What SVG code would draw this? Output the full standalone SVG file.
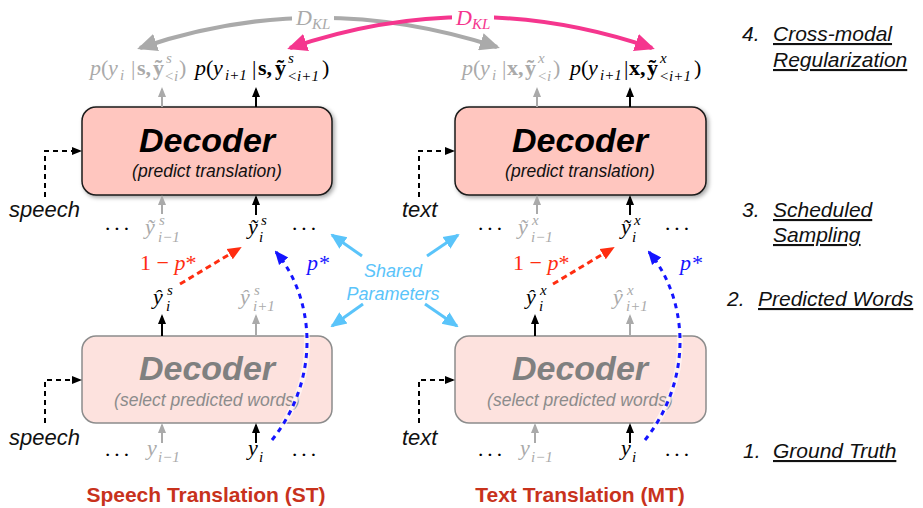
<svg xmlns="http://www.w3.org/2000/svg" width="923" height="508" viewBox="0 0 923 508">
<defs>
<style>
.m{font-family:"Liberation Serif","Times New Roman","DejaVu Serif",serif;font-size:22px}
.it{font-style:italic}
.bd{font-weight:bold}
.sm{font-size:15px}
.g{fill:#aaaaaa}
.k{fill:#000000}
.dtop{fill:#ffc6bf;stroke:#1a1a1a;stroke-width:1.5}
.dbot{fill:#fde2de;stroke:#8c8c8c;stroke-width:1.5}
.dt{font-family:"Liberation Sans",Arial,sans-serif;font-style:italic;font-weight:bold;font-size:34px;text-anchor:middle}
.ds{font-family:"Liberation Sans",Arial,sans-serif;font-style:italic;font-size:17.5px;text-anchor:middle}
.lbl{font-family:"Liberation Sans",Arial,sans-serif;font-style:italic;font-size:21px;fill:#111111}
.in{font-family:"Liberation Sans",Arial,sans-serif;font-style:italic;font-size:22px;fill:#111111}
.u{text-decoration:underline}
.title{font-family:"Liberation Sans",Arial,sans-serif;font-weight:bold;font-size:21px;fill:#c8321c;text-anchor:middle}
.upk{stroke:#000;stroke-width:2;fill:none;marker-end:url(#hk)}
.upg{stroke:#aaaaaa;stroke-width:2;fill:none;marker-end:url(#hg)}
.dash{stroke:#000;stroke-width:2;stroke-dasharray:5 4;fill:none;marker-end:url(#hk)}
.red{stroke:#ff2d10;stroke-width:3;stroke-dasharray:6 4;fill:none;marker-end:url(#hr)}
.blue{stroke:#1414ff;stroke-width:3;stroke-dasharray:5 5;fill:none;marker-end:url(#hb)}
.halo{stroke:#ffffff;stroke-width:6;stroke-opacity:0.6;fill:none}
.sh{stroke:#5ac4fa;stroke-width:3;fill:none;marker-end:url(#hs)}
.kl{stroke-width:4;fill:none}
.shared{font-family:"Liberation Sans",Arial,sans-serif;font-style:italic;font-size:18px;fill:#5ac4fa;text-anchor:middle}
</style>
<filter id="shadow" x="-10%" y="-10%" width="130%" height="140%">
<feDropShadow dx="2" dy="2" stdDeviation="2" flood-color="#000" flood-opacity="0.35"/>
</filter>
<marker id="hk" markerUnits="userSpaceOnUse" markerWidth="10" markerHeight="10" refX="8" refY="5" orient="auto"><path d="M0,1 L10,5 L0,9 z" fill="#000"/></marker>
<marker id="hg" markerUnits="userSpaceOnUse" markerWidth="10" markerHeight="10" refX="8" refY="5" orient="auto"><path d="M0,1 L10,5 L0,9 z" fill="#aaaaaa"/></marker>
<marker id="hr" markerUnits="userSpaceOnUse" markerWidth="14" markerHeight="14" refX="12" refY="7" orient="auto"><path d="M0,1 L14,7 L0,13 z" fill="#ff2d10"/></marker>
<marker id="hb" markerUnits="userSpaceOnUse" markerWidth="14" markerHeight="14" refX="12" refY="7" orient="auto"><path d="M0,1 L14,7 L0,13 z" fill="#1414ff"/></marker>
<marker id="hs" markerUnits="userSpaceOnUse" markerWidth="16" markerHeight="16" refX="14" refY="8" orient="auto"><path d="M0,1 L16,8 L0,15 z" fill="#5ac4fa"/></marker>
<marker id="ag" markerUnits="userSpaceOnUse" markerWidth="20" markerHeight="18" refX="17" refY="9" orient="auto-start-reverse"><path d="M0,0 L20,9 L0,18 z" fill="#aaaaaa"/></marker>
<marker id="ap" markerUnits="userSpaceOnUse" markerWidth="20" markerHeight="18" refX="17" refY="9" orient="auto-start-reverse"><path d="M0,0 L20,9 L0,18 z" fill="#f5368e"/></marker>
</defs>

<!-- Nodes -->
<g id="st-decoder-predict">
<rect class="dtop" x="82" y="107" width="250" height="88" rx="14" filter="url(#shadow)"/>
<text class="dt" x="207" y="152" fill="#000">Decoder</text>
<text class="ds" x="207" y="177" fill="#111">(predict translation)</text>
</g>
<g id="mt-decoder-predict">
<rect class="dtop" x="455" y="107" width="251" height="88" rx="14" filter="url(#shadow)"/>
<text class="dt" x="580" y="152" fill="#000">Decoder</text>
<text class="ds" x="580" y="177" fill="#111">(predict translation)</text>
</g>
<g id="st-decoder-select">
<rect class="dbot" x="82" y="336" width="250" height="87" rx="14"/>
<text class="dt" x="207" y="380" fill="#808080">Decoder</text>
<text class="ds" x="207" y="406" fill="#8c8c8c">(select predicted words)</text>
</g>
<g id="mt-decoder-select">
<rect class="dbot" x="455" y="336" width="251" height="87" rx="14"/>
<text class="dt" x="580" y="380" fill="#808080">Decoder</text>
<text class="ds" x="580" y="406" fill="#8c8c8c">(select predicted words)</text>
</g>

<!-- Connectors -->
<g id="connectors">
<!-- inputs -->
<path class="dash" d="M45,197 V151 H80"/>
<path class="dash" d="M45,423 V380 H80"/>
<path class="dash" d="M419,197 V151 H453"/>
<path class="dash" d="M419,423 V380 H453"/>
<!-- ST vertical arrows -->
<path class="upg" d="M162,107 V89"/>
<path class="upk" d="M256,107 V89"/>
<path class="upg" d="M162,214 V197"/>
<path class="upk" d="M256,215 V197"/>
<path class="upk" d="M162,336 V316"/>
<path class="upg" d="M256,336 V316"/>
<path class="upg" d="M162,443 V425"/>
<path class="upk" d="M256,443 V425"/>
<!-- MT vertical arrows -->
<path class="upg" d="M537,107 V89"/>
<path class="upk" d="M630,107 V89"/>
<path class="upg" d="M537,214 V197"/>
<path class="upk" d="M630,215 V197"/>
<path class="upk" d="M535,336 V316"/>
<path class="upg" d="M630,336 V316"/>
<path class="upg" d="M535,443 V425"/>
<path class="upk" d="M630,443 V425"/>
<!-- scheduled sampling -->
<path class="red" d="M180,284 L240,248"/>
<path class="red" d="M553,284 L613,248"/>
<path class="halo" d="M272,440 C320,380 316,300 276,252"/>
<path class="blue" d="M272,440 C320,380 316,300 276,252"/>
<path class="halo" d="M645,440 C693,380 689,300 649,252"/>
<path class="blue" d="M645,440 C693,380 689,300 649,252"/>
<!-- shared parameters -->
<path class="sh" d="M362,256 L332,235"/>
<path class="sh" d="M427,256 L458,235"/>
<path class="sh" d="M363,304 L332,326"/>
<path class="sh" d="M425,304 L457,326"/>
<!-- KL arcs -->
<path class="kl" stroke="#aaaaaa" d="M140,48 Q315,-12 497,47" marker-start="url(#ag)" marker-end="url(#ag)"/>
<rect x="292" y="5" width="42" height="25" fill="#fff"/>
<text class="m it g" x="296" y="25">D<tspan class="sm" dy="4">KL</tspan></text>
<path class="kl" stroke="#f5368e" d="M290,48 Q471,-14 652,48" marker-start="url(#ap)" marker-end="url(#ap)"/>
<rect x="452" y="5" width="42" height="25" fill="#fff"/>
<text class="m it" fill="#f5368e" x="456" y="25">D<tspan class="sm" dy="4">KL</tspan></text>
</g>

<!-- Input labels -->
<g id="inputs">
<text class="in" x="9" y="217">speech</text>
<text class="in" x="9" y="445">speech</text>
<text class="in" x="402" y="217">text</text>
<text class="in" x="402" y="445">text</text>
</g>

<!-- Output distributions -->
<g id="st-outputs">
<text class="m g"><tspan class="it" x="90" y="75">p</tspan><tspan x="101" y="75">(</tspan><tspan class="it" x="108" y="75">y</tspan><tspan class="it sm" x="120" y="80">i</tspan><tspan x="131" y="75">|</tspan><tspan class="bd" x="137" y="75">s,</tspan><tspan class="bd" x="153" y="75">ỹ</tspan><tspan class="it sm" x="166" y="63">s</tspan><tspan class="it sm" x="164" y="81">&lt;i</tspan><tspan x="179" y="75">)</tspan></text>
<text class="m k"><tspan class="it" x="195" y="75">p</tspan><tspan x="206" y="75">(</tspan><tspan class="it" x="213" y="75">y</tspan><tspan class="it sm" x="225" y="80">i+1</tspan><tspan x="252" y="75">|</tspan><tspan class="bd" x="258" y="75">s,</tspan><tspan class="bd" x="275" y="75">ỹ</tspan><tspan class="it sm" x="288" y="63">s</tspan><tspan class="it sm" x="287" y="81">&lt;i+1</tspan><tspan x="322" y="75">)</tspan></text>
</g>
<g id="mt-outputs">
<text class="m g"><tspan class="it" x="462" y="75">p</tspan><tspan x="473" y="75">(</tspan><tspan class="it" x="480" y="75">y</tspan><tspan class="it sm" x="492" y="80">i</tspan><tspan x="502" y="75">|</tspan><tspan class="bd" x="507" y="75">x,</tspan><tspan class="bd" x="525" y="75">ỹ</tspan><tspan class="it sm" x="538" y="63">x</tspan><tspan class="it sm" x="537" y="81">&lt;i</tspan><tspan x="553" y="75">)</tspan></text>
<text class="m k"><tspan class="it" x="570" y="75">p</tspan><tspan x="581" y="75">(</tspan><tspan class="it" x="588" y="75">y</tspan><tspan class="it sm" x="600" y="80">i+1</tspan><tspan x="624" y="75">|</tspan><tspan class="bd" x="629" y="75">x,</tspan><tspan class="bd" x="647" y="75">ỹ</tspan><tspan class="it sm" x="660" y="63">x</tspan><tspan class="it sm" x="659" y="81">&lt;i+1</tspan><tspan x="694" y="75">)</tspan></text>
</g>

<!-- Token rows -->
<g id="st-tokens">
<text class="m k" x="104" y="236" letter-spacing="2">···</text>
<text class="m g"><tspan class="it" x="145" y="234">ỹ</tspan><tspan class="it sm" x="159" y="225">s</tspan><tspan class="it sm" x="158" y="242">i−1</tspan></text>
<text class="m k"><tspan class="it" x="248" y="234">ỹ</tspan><tspan class="it sm" x="261" y="225">s</tspan><tspan class="it sm" x="259" y="242">i</tspan></text>
<text class="m k" x="291" y="236" letter-spacing="2">···</text>
<text class="m" fill="#ff2d10" x="140" y="270">1 − <tspan class="it">p</tspan>*</text>
<text class="m it" fill="#1414ff" x="307" y="270">p*</text>
<text class="m k"><tspan class="it" x="153" y="304">ŷ</tspan><tspan class="it sm" x="167" y="295">s</tspan><tspan class="it sm" x="166" y="311">i</tspan></text>
<text class="m g"><tspan class="it" x="240" y="304">ŷ</tspan><tspan class="it sm" x="254" y="295">s</tspan><tspan class="it sm" x="253" y="311">i+1</tspan></text>
<text class="m k" x="104" y="462" letter-spacing="2">···</text>
<text class="m g"><tspan class="it" x="147" y="455">y</tspan><tspan class="it sm" x="158" y="462">i−1</tspan></text>
<text class="m k"><tspan class="it" x="248" y="455">y</tspan><tspan class="it sm" x="259" y="462">i</tspan></text>
<text class="m k" x="291" y="462" letter-spacing="2">···</text>
</g>
<g id="mt-tokens">
<text class="m k" x="477" y="236" letter-spacing="2">···</text>
<text class="m g"><tspan class="it" x="518" y="234">ỹ</tspan><tspan class="it sm" x="532" y="225">x</tspan><tspan class="it sm" x="531" y="242">i−1</tspan></text>
<text class="m k"><tspan class="it" x="621" y="234">ỹ</tspan><tspan class="it sm" x="634" y="225">x</tspan><tspan class="it sm" x="632" y="242">i</tspan></text>
<text class="m k" x="664" y="236" letter-spacing="2">···</text>
<text class="m" fill="#ff2d10" x="513" y="270">1 − <tspan class="it">p</tspan>*</text>
<text class="m it" fill="#1414ff" x="680" y="270">p*</text>
<text class="m k"><tspan class="it" x="526" y="304">ŷ</tspan><tspan class="it sm" x="540" y="295">x</tspan><tspan class="it sm" x="539" y="311">i</tspan></text>
<text class="m g"><tspan class="it" x="613" y="304">ŷ</tspan><tspan class="it sm" x="627" y="295">x</tspan><tspan class="it sm" x="626" y="311">i+1</tspan></text>
<text class="m k" x="477" y="462" letter-spacing="2">···</text>
<text class="m g"><tspan class="it" x="520" y="455">y</tspan><tspan class="it sm" x="531" y="462">i−1</tspan></text>
<text class="m k"><tspan class="it" x="621" y="455">y</tspan><tspan class="it sm" x="632" y="462">i</tspan></text>
<text class="m k" x="664" y="462" letter-spacing="2">···</text>
</g>

<g id="shared-label">
<text class="shared" x="393" y="277">Shared</text>
<text class="shared" x="393" y="300">Parameters</text>
</g>

<g id="titles">
<text class="title" x="206" y="502">Speech Translation (ST)</text>
<text class="title" x="580" y="502">Text Translation (MT)</text>
</g>

<g id="steps">
<text class="lbl" x="742" y="41">4.</text>
<text class="lbl u" x="773" y="41">Cross-modal</text>
<text class="lbl u" x="773" y="67">Regularization</text>
<text class="lbl" x="742" y="217">3.</text>
<text class="lbl u" x="773" y="217">Scheduled</text>
<text class="lbl u" x="773" y="242">Sampling</text>
<text class="lbl" x="727" y="306">2.</text>
<text class="lbl u" x="758" y="306">Predicted Words</text>
<text class="lbl" x="743" y="458">1.</text>
<text class="lbl u" x="773" y="458">Ground Truth</text>
</g>
</svg>
